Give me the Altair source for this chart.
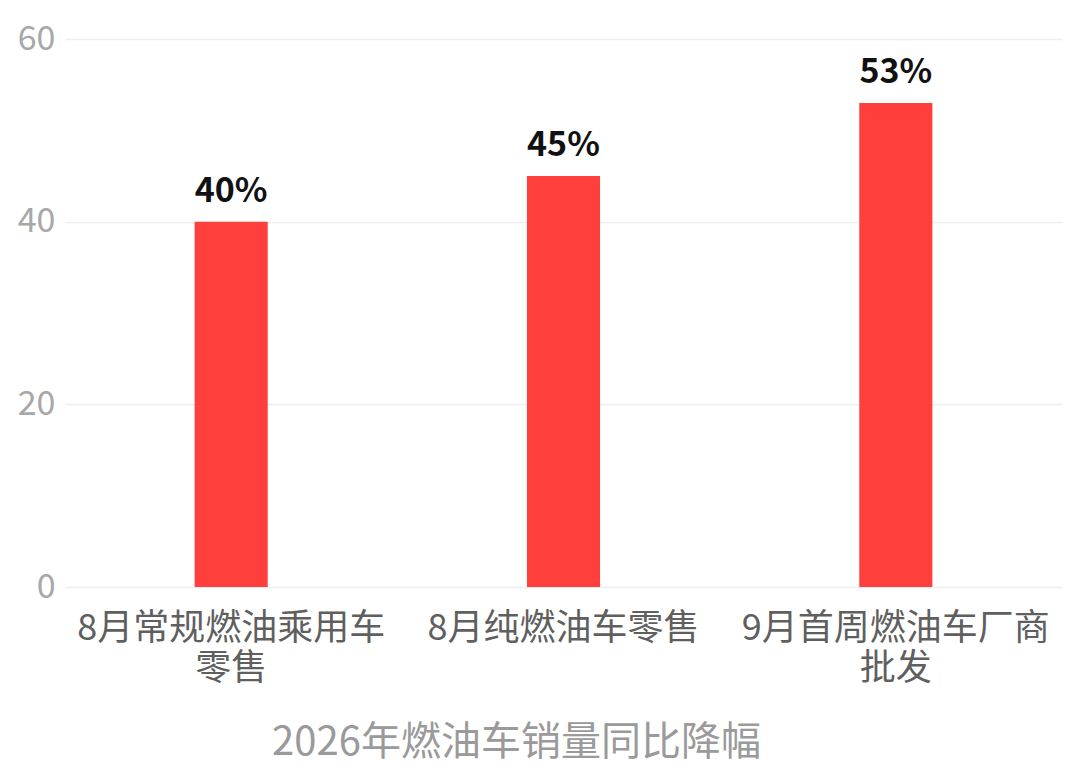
import altair as alt
import pandas as pd

categories = ["8月常规燃油乘用车\n零售", "8月纯燃油车零售", "9月首周燃油车厂商\n批发"]
values = [40, 45, 53]
labels = ["40%", "45%", "53%"]

df = pd.DataFrame({"cat": categories, "val": values, "lab": labels})

FONT = "Noto Sans CJK SC"

base = alt.Chart(df).encode(
    x=alt.X(
        "cat:N",
        sort=categories,
        scale=alt.Scale(paddingInner=0.78, paddingOuter=0.39),
        axis=alt.Axis(
            title="2026年燃油车销量同比降幅",
            labelExpr="split(datum.label, '\\n')",
            labelAngle=0,
            labelFont=FONT,
            labelFontSize=36,
            labelColor="#5f5f5f",
            labelLineHeight=40,
            labelBaseline="top",
            labelPadding=24,
            labelLimit=0,
            domain=False,
            ticks=False,
            titleFont=FONT,
            titleFontSize=40,
            titleFontWeight="normal",
            titleColor="#9a9a9a",
            titlePadding=36,
            titleX=451,
            titleAnchor="start",
            titleAlign="center",
        ),
    ),
    y=alt.Y(
        "val:Q",
        scale=alt.Scale(domain=[0, 60], nice=False),
        axis=alt.Axis(
            title=None,
            values=[0, 20, 40, 60],
            labelFont=FONT,
            labelFontSize=34,
            labelColor="#a8a8a8",
            labelPadding=10,
            domain=False,
            ticks=False,
            gridColor="#eeeeee",
            gridWidth=1.5,
        ),
    ),
)

bars = base.mark_bar(color="#FF3F3B")
text = base.mark_text(
    dy=-20, baseline="alphabetic", font=FONT, fontSize=34, fontWeight="bold", color="#111111"
).encode(text="lab:N")

chart = (
    (bars + text)
    .properties(
        width=997,
        height=548,
        autosize=alt.AutoSizeParams(type="none"),
        padding={"left": 57, "top": 31, "right": 10, "bottom": 180},
    )
    .configure_view(stroke=None)
)

chart.save("out.html", embed_options={"renderer": "svg", "actions": False})
